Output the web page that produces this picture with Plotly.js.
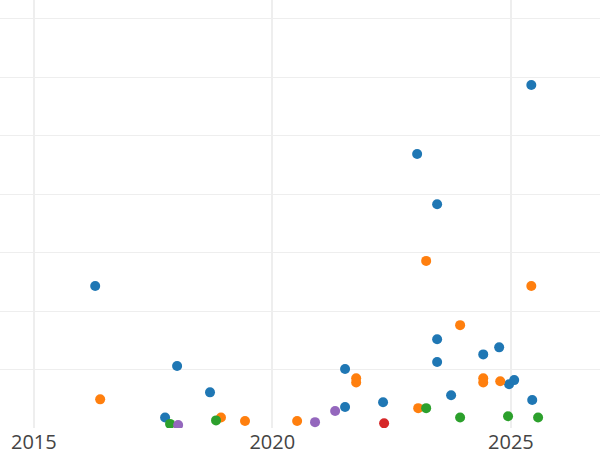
<!DOCTYPE html>
<html>
<head>
<meta charset="utf-8">
<script src="https://cdn.plot.ly/plotly-3.0.1.min.js"></script>
<style>html,body{margin:0;padding:0;background:#fff;}#chart{width:600px;height:450px;}</style>
</head>
<body>
<div id="chart"></div>
<script>
// Series A (blue)
const seriesA_dates = ["2016-04-15","2018-01-02","2017-10-02","2018-09-11","2021-07-11","2021-07-11","2022-04-28","2023-01-14","2023-06-16","2023-06-16","2023-06-16","2023-10-01","2024-06-03","2024-10-03","2024-12-18","2025-01-26","2025-06-06","2025-06-13"];
const seriesA_values = [2.43,1.06,0.18,0.61,1.01,0.36,0.44,4.69,3.83,1.52,1.13,0.56,1.26,1.38,0.75,0.82,5.87,0.48];
// Series B (orange)
const seriesB_dates = ["2016-05-23","2018-12-04","2019-06-06","2020-07-09","2021-10-04","2021-10-04","2023-01-22","2023-03-24","2023-12-09","2024-06-03","2024-06-03","2024-10-11","2025-06-06"];
const seriesB_values = [0.49,0.18,0.12,0.12,0.85,0.78,0.34,2.86,1.76,0.85,0.78,0.80,2.43];
// Series C (green)
const seriesC_dates = ["2017-11-09","2018-10-27","2023-03-24","2023-12-09","2024-12-10","2025-07-28"];
const seriesC_values = [0.07,0.13,0.34,0.18,0.20,0.18];
// Series D (purple)
const seriesD_dates = ["2018-01-10","2020-11-23","2021-04-26"];
const seriesD_values = [0.05,0.10,0.29];
// Series E (red)
const seriesE_dates = ["2022-05-06"];
const seriesE_values = [0.08];

const xTickVals = ["2015-01-01","2020-01-01","2025-01-01"];
const xTickText = ["2015","2020","2025"];

const colors = ["#1f77b4","#ff7f0e","#2ca02c","#9467bd","#d62728"];
const all = [
  [seriesA_dates, seriesA_values, "A"],
  [seriesB_dates, seriesB_values, "B"],
  [seriesC_dates, seriesC_values, "C"],
  [seriesD_dates, seriesD_values, "D"],
  [seriesE_dates, seriesE_values, "E"]
];
const traces = all.map((s, i) => ({
  type: "scatter",
  mode: "markers",
  x: s[0], y: s[1], name: s[2],
  marker: {color: colors[i], size: 10},
  showlegend: false
}));

const layout = {
  width: 600, height: 450,
  margin: {l: 0, r: 0, t: 0, b: 22, pad: 0},
  paper_bgcolor: "#fff", plot_bgcolor: "#fff",
  font: {family: "Open Sans, sans-serif", color: "#444", size: 20},
  showlegend: false,
  xaxis: {
    type: "date",
    range: ["2014-04-17", "2026-11-14"],
    tickvals: xTickVals, ticktext: xTickText,
    showgrid: true, gridcolor: "#eee", gridwidth: 2,
    zeroline: false, showline: false, ticks: "",
    tickfont: {size: 20, color: "#444"}
  },
  yaxis: {
    range: [0, 7.325],
    dtick: 1, tick0: 0,
    showgrid: true, gridcolor: "#eee",
    zeroline: false, showline: false,
    showticklabels: false, ticks: ""
  }
};
Plotly.newPlot("chart", traces, layout, {staticPlot: true, displayModeBar: false});
</script>
</body>
</html>
